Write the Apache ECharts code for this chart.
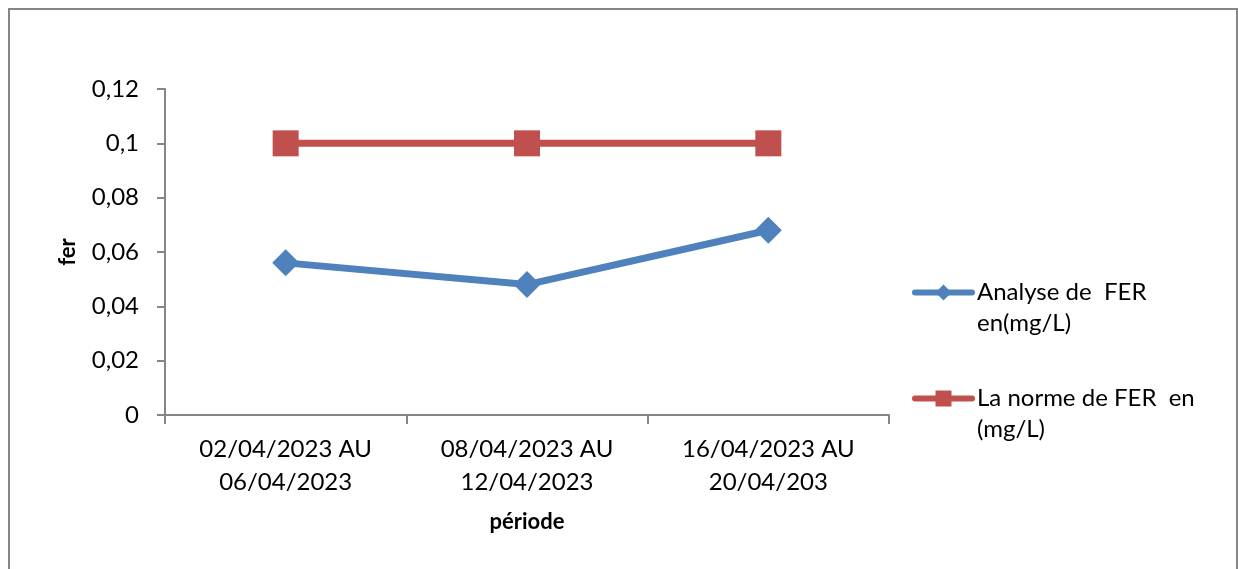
<!DOCTYPE html>
<html>
<head>
<meta charset="utf-8">
<script src="https://cdn.jsdelivr.net/npm/echarts@6/dist/echarts.min.js"></script>
<style>
  html, body { margin: 0; padding: 0; background: #ffffff; }
  #chart { width: 1238px; height: 569px; }
</style>
</head>
<body>
<div id="chart"></div>
<script>
// Periods of analysis (x categories)
const periods = [
  '02/04/2023 AU\n06/04/2023',
  '08/04/2023 AU\n12/04/2023',
  '16/04/2023 AU\n20/04/203'
];
// Measured iron concentration (mg/L)
const analyseFer = [0.056, 0.048, 0.068];
// Regulatory limit for iron (mg/L)
const normeFer = [0.1, 0.1, 0.1];
const seriesNames = ['Analyse de  FER\nen(mg/L)', 'La norme de FER  en\n(mg/L)'];
const axisNames = { x: 'période', y: 'fer' };

const FONT = 'Lato';
const AXIS_GRAY = '#868686';

const chart = echarts.init(document.getElementById('chart'), null, { renderer: 'canvas' });

const fmtComma = v => String(Math.round(v * 1000) / 1000).replace('.', ',');

chart.setOption({
  animation: false,
  backgroundColor: '#ffffff',
  textStyle: { fontFamily: FONT, color: '#000000' },
  graphic: [{
    type: 'rect',
    shape: { x: 9, y: 9, width: 1228, height: 620 },
    style: { fill: 'none', stroke: AXIS_GRAY, lineWidth: 2 },
    silent: true
  }],
  grid: { left: 165, right: 349, top: 89, bottom: 154, containLabel: false },
  legend: {
    orient: 'vertical',
    left: 912,
    top: 246,
    padding: 0,
    itemWidth: 57,
    itemHeight: 20,
    itemGap: 13,
    lineStyle: { width: 6, cap: 'round' },
    // leading blank line keeps the marker level with the first text line
    formatter: name => '\n' + name,
    textStyle: {
      fontFamily: FONT,
      fontSize: 24,
      lineHeight: 31,
      color: '#000000'
    },
    data: seriesNames
  },
  xAxis: {
    type: 'category',
    data: periods,
    boundaryGap: true,
    axisLine: { lineStyle: { color: AXIS_GRAY, width: 2 } },
    axisTick: { show: true, length: 9, lineStyle: { color: AXIS_GRAY, width: 2 } },
    axisLabel: { fontFamily: FONT, fontSize: 24, lineHeight: 33, color: '#000000', margin: 18 },
    name: axisNames.x,
    nameLocation: 'middle',
    nameGap: 96,
    nameTextStyle: { fontFamily: FONT, fontSize: 22, fontWeight: 'bold', color: '#000000' }
  },
  yAxis: {
    type: 'value',
    min: 0,
    max: 0.12,
    interval: 0.02,
    axisLine: { show: true, lineStyle: { color: AXIS_GRAY, width: 2 } },
    axisTick: { show: true, length: 8, lineStyle: { color: AXIS_GRAY, width: 2 } },
    splitLine: { show: false },
    axisLabel: { fontFamily: FONT, fontSize: 24, color: '#000000', margin: 26, formatter: fmtComma },
    name: axisNames.y,
    nameLocation: 'middle',
    nameGap: 86,
    nameTextStyle: { fontFamily: FONT, fontSize: 22, fontWeight: 'bold', color: '#000000' }
  },
  series: [
    {
      name: seriesNames[0],
      type: 'line',
      data: analyseFer,
      symbol: 'diamond',
      symbolSize: 27,
      lineStyle: { color: '#4F81BD', width: 7 },
      itemStyle: { color: '#4F81BD' }
    },
    {
      name: seriesNames[1],
      type: 'line',
      data: normeFer,
      symbol: 'rect',
      symbolSize: 26,
      lineStyle: { color: '#C0504D', width: 7 },
      itemStyle: { color: '#C0504D' }
    }
  ]
});
</script>
</body>
</html>
